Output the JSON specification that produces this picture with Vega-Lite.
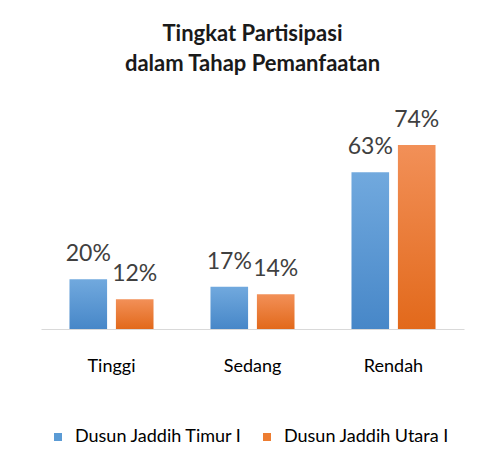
{
  "$schema": "https://vega.github.io/schema/vega-lite/v6.json",
  "autosize": "none",
  "width": 423,
  "height": 199,
  "padding": {"left": 41, "top": 130, "right": 20, "bottom": 128},
  "background": "white",
  "title": {
    "text": ["Tingkat Partisipasi", "dalam Tahap Pemanfaatan"],
    "font": "Lato",
    "fontSize": 22,
    "fontWeight": "bold",
    "color": "#1a1a1a",
    "lineHeight": 30,
    "anchor": "middle",
    "offset": 33
  },
  "data": {
    "values": [
      {"kategori": "Tinggi", "dusun": "Dusun Jaddih Timur I", "nilai": 20, "label": "20%"},
      {"kategori": "Tinggi", "dusun": "Dusun Jaddih Utara I", "nilai": 12, "label": "12%"},
      {"kategori": "Sedang", "dusun": "Dusun Jaddih Timur I", "nilai": 17, "label": "17%"},
      {"kategori": "Sedang", "dusun": "Dusun Jaddih Utara I", "nilai": 14, "label": "14%"},
      {"kategori": "Rendah", "dusun": "Dusun Jaddih Timur I", "nilai": 63, "label": "63%"},
      {"kategori": "Rendah", "dusun": "Dusun Jaddih Utara I", "nilai": 74, "label": "74%"}
    ]
  },
  "encoding": {
    "x": {
      "field": "kategori", "type": "nominal", "sort": ["Tinggi", "Sedang", "Rendah"],
      "scale": {"paddingInner": 0.404, "paddingOuter": 0.202},
      "axis": {"title": null, "labelAngle": 0, "ticks": false, "domainColor": "#d9d9d9", "domainWidth": 1,
               "labelFont": "Lato", "labelFontSize": 18, "labelColor": "#000000", "labelPadding": 37, "labelBaseline": "middle"}
    },
    "xOffset": {"field": "dusun", "type": "nominal", "sort": ["Dusun Jaddih Timur I", "Dusun Jaddih Utara I"], "scale": {"paddingInner": 0.19}},
    "y": {"field": "nilai", "type": "quantitative", "scale": {"domain": [0, 80], "nice": false}, "axis": null}
  },
  "layer": [
    {
      "mark": {"type": "bar", "opacity": 0},
      "encoding": {
        "color": {
          "field": "dusun", "type": "nominal",
          "scale": {"domain": ["Dusun Jaddih Timur I", "Dusun Jaddih Utara I"], "range": ["#5b9bd5", "#ed7d31"]},
          "legend": {"title": null, "orient": "none", "legendX": 8, "legendY": 298, "direction": "horizontal",
                     "symbolType": "square", "symbolSize": 64, "symbolStrokeWidth": 0, "symbolOpacity": 1,
                     "labelFont": "Lato", "labelFontSize": 18, "labelColor": "#000000", "labelLimit": 0,
                     "columnPadding": 15, "labelOffset": 8}
        }
      }
    },
    {
      "mark": {"type": "bar"},
      "encoding": {
        "fill": {
          "condition": {"test": "datum.dusun === 'Dusun Jaddih Timur I'",
            "value": {"gradient": "linear", "x1": 0, "y1": 0, "x2": 0, "y2": 1,
                      "stops": [{"offset": 0, "color": "#71a9de"}, {"offset": 1, "color": "#4787c8"}]}},
          "value": {"gradient": "linear", "x1": 0, "y1": 0, "x2": 0, "y2": 1,
                    "stops": [{"offset": 0, "color": "#f29058"}, {"offset": 1, "color": "#e2691b"}]}
        }
      }
    },
    {
      "mark": {"type": "text", "baseline": "alphabetic", "dy": -18, "font": "Lato", "fontSize": 23, "color": "#404040"},
      "encoding": {"text": {"field": "label"}}
    }
  ],
  "config": {"view": {"stroke": null}}
}
